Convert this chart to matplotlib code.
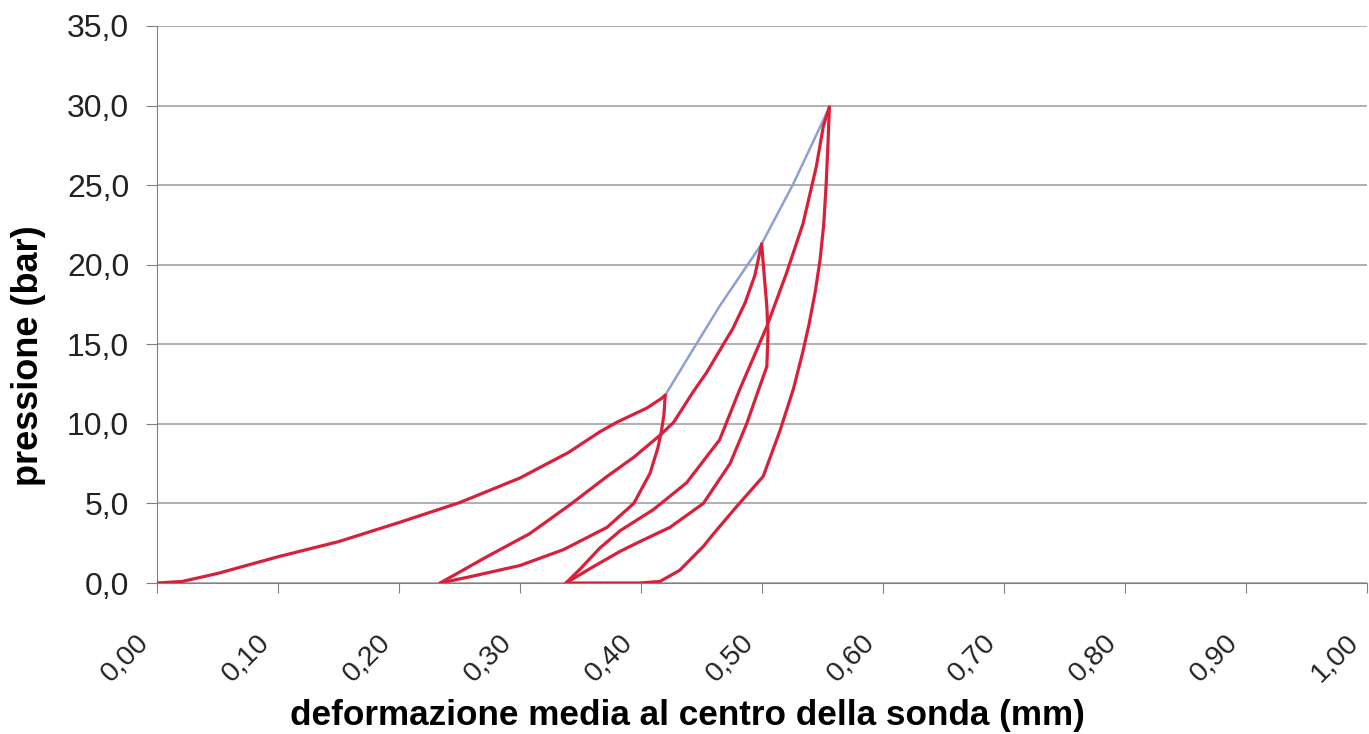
import matplotlib
matplotlib.use("Agg")
import matplotlib.pyplot as plt
from matplotlib.ticker import FuncFormatter, MultipleLocator
from matplotlib.transforms import ScaledTranslation

plt.rcParams['font.family'] = ['Liberation Sans', 'DejaVu Sans']

# primo carico 0 -> 11.8 bar
load1_x = [0.000, 0.021, 0.050, 0.100, 0.150, 0.200, 0.250, 0.300, 0.340, 0.366, 0.380, 0.405, 0.417, 0.420]
load1_y = [0.0, 0.1, 0.6, 1.65, 2.6, 3.8, 5.05, 6.6, 8.2, 9.5, 10.1, 11.0, 11.6, 11.8]

# scarico da 11.8 bar
unl1_x = [0.420, 0.419, 0.417, 0.414, 0.4075, 0.394, 0.372, 0.336, 0.300, 0.259, 0.234]
unl1_y = [11.8, 10.6, 9.6, 8.5, 6.9, 5.0, 3.5, 2.1, 1.1, 0.4, 0.0]

# ricarico fino a 21.3 bar
load2_x = [0.234, 0.2725, 0.308, 0.341, 0.372, 0.394, 0.416, 0.427, 0.443, 0.454, 0.465, 0.476, 0.486, 0.494, 0.4997]
load2_y = [0.0, 1.65, 3.1, 4.9, 6.7, 7.9, 9.3, 10.1, 12.0, 13.2, 14.6, 16.0, 17.6, 19.3, 21.3]

# scarico da 21.3 bar
unl2_x = [0.4997, 0.502, 0.504, 0.505, 0.504, 0.497, 0.4873, 0.4736, 0.4515, 0.424, 0.399, 0.383, 0.360, 0.338]
unl2_y = [21.3, 19.2, 17.4, 15.7, 13.6, 12.1, 10.0, 7.5, 5.0, 3.5, 2.6, 2.0, 1.0, 0.0]

# ricarico fino a 30 bar
load3_x = [0.338, 0.350, 0.366, 0.383, 0.410, 0.4377, 0.465, 0.4818, 0.5039, 0.5204, 0.534, 0.545, 0.5507, 0.5557]
load3_y = [0.0, 0.9, 2.2, 3.3, 4.6, 6.3, 9.0, 12.2, 16.1, 19.5, 22.6, 26.2, 28.7, 29.9]

# scarico da 30 bar
unl3_x = [0.5557, 0.5545, 0.553, 0.551, 0.548, 0.544, 0.539, 0.534, 0.526, 0.515, 0.501, 0.479, 0.460, 0.4515, 0.432, 0.4157, 0.399, 0.338]
unl3_y = [29.9, 27.5, 25.0, 22.5, 20.3, 18.3, 16.3, 14.6, 12.2, 9.6, 6.7, 4.8, 3.1, 2.3, 0.8, 0.1, 0.0, 0.0]

# curva vergine (inviluppo)
env_x = [0.420, 0.440, 0.465, 0.4997, 0.526, 0.5557]
env_y = [11.8, 14.3, 17.4, 21.3, 25.1, 29.9]

RED = '#d8203a'
BLUE = '#8e9fd6'

fig = plt.figure(figsize=(13.69, 7.34), dpi=100)
ax = fig.add_axes([0.1147, 0.2057, 0.8838, 0.7589])

ax.plot(env_x, env_y, color=BLUE, lw=1.8, zorder=2)
for xs, ys in [(load1_x, load1_y), (unl1_x, unl1_y), (load2_x, load2_y),
               (unl2_x, unl2_y), (load3_x, load3_y), (unl3_x, unl3_y)]:
    ax.plot(xs, ys, color=RED, lw=2.3, zorder=3, solid_joinstyle='round', solid_capstyle='round')

ax.set_xlim(0, 1.0)
ax.set_ylim(0, 35)
ax.xaxis.set_major_locator(MultipleLocator(0.1))
ax.yaxis.set_major_locator(MultipleLocator(5))
ax.xaxis.set_major_formatter(FuncFormatter(lambda v, p: f"{v:.2f}".replace('.', ',')))
ax.yaxis.set_major_formatter(FuncFormatter(lambda v, p: f"{v:.1f}".replace('.', ',')))

ax.grid(axis='y', color='#9a9a9a', lw=1.1)
ax.set_axisbelow(True)
for s in ['top', 'right']:
    ax.spines[s].set_visible(False)
ax.spines['left'].set_color('#808080')
ax.spines['bottom'].set_color('#808080')

ax.tick_params(axis='y', length=8, color='#808080', labelsize=23, pad=12, labelcolor='#222222')
ax.tick_params(axis='x', length=7, color='#808080', labelsize=20.5, pad=33, labelcolor='#222222')
shift = ScaledTranslation(-12 / 100, 0, fig.dpi_scale_trans)
for lab in ax.get_xticklabels():
    lab.set_rotation(45)
    lab.set_ha('right')
    lab.set_va('center')
    lab.set_rotation_mode('anchor')
    lab.set_transform(lab.get_transform() + shift)

ax.set_xlabel('deformazione media al centro della sonda (mm)', fontsize=25.3, fontweight='bold', va='center')
ax.xaxis.set_label_coords(0.438, -0.237)
ax.set_ylabel('pressione (bar)', fontsize=26, fontweight='bold', va='center')
ax.yaxis.set_label_coords(-0.1066, 0.409)

fig.savefig('out.png', dpi=100)
